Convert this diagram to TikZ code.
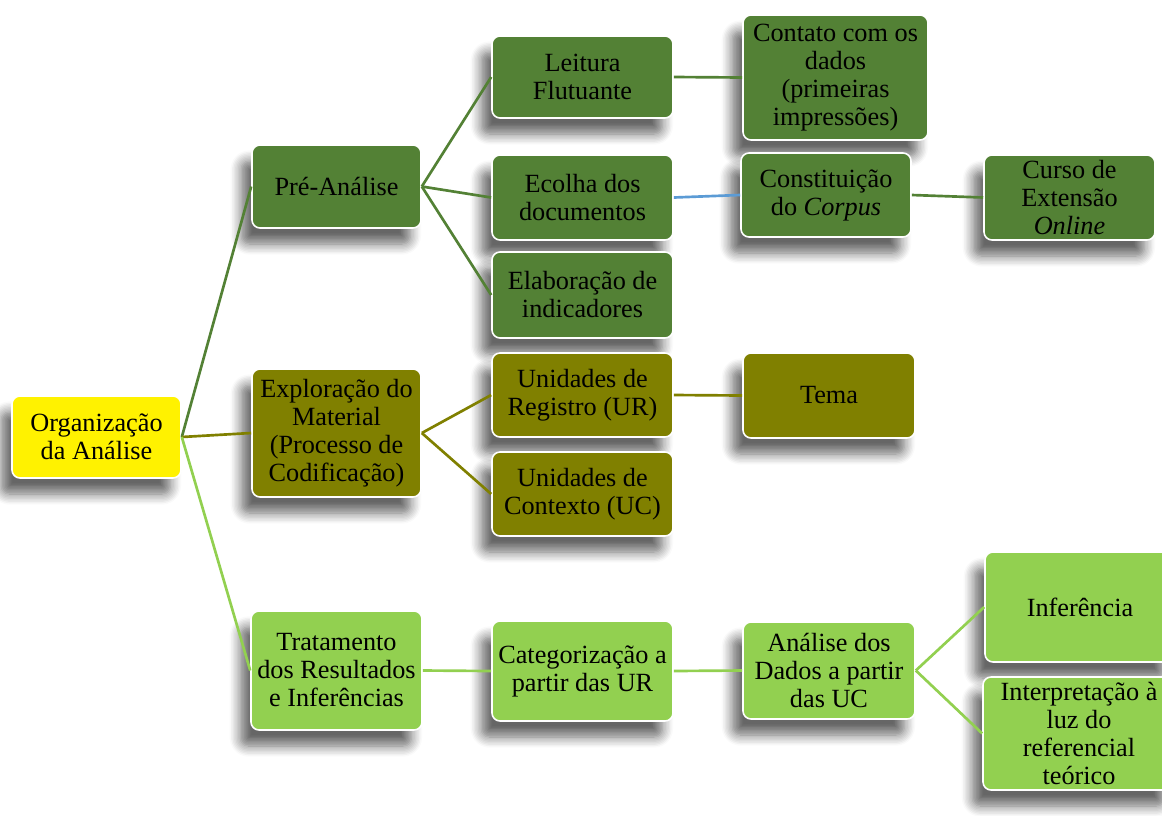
\documentclass[tikz,border=0pt]{standalone}
\usepackage{fontspec}
\setmainfont{Liberation Serif}
\usetikzlibrary{shadows.blur}
\definecolor{dkgreen}{HTML}{538135}
\definecolor{olivebox}{HTML}{808000}
\definecolor{ltgreen}{HTML}{92D050}
\definecolor{linkblue}{HTML}{5B9BD5}
\begin{document}
\begin{tikzpicture}[x=0.75pt,y=-0.75pt,
  card/.style={rounded corners=6pt, draw=white, line width=1.2pt, align=center,
    inner sep=0pt, text=black, font=\fontsize{19.7}{21}\selectfont,
    blur shadow={shadow xshift=-8pt, shadow yshift=-12pt, shadow blur radius=8pt,
      shadow opacity=60, shadow blur steps=8}},
  sz/.style 2 args={minimum width=#1*0.75pt, minimum height=#2*0.75pt},
  rootbox/.style={card, fill=yellow},
  darkbox/.style={card, fill=dkgreen},
  olivecard/.style={card, fill=olivebox},
  lightbox/.style={card, fill=ltgreen},
  link/.style={line width=2pt},
]
\useasboundingbox (0,0) rectangle (1162,815);

% root
\node[rootbox, sz={169}{82}] (org) at (96.5,437) {Organização\\da Análise};

% first level
\node[darkbox, sz={169}{83}] (pre) at (336.5,186.5) {Pré-Análise};
\node[olivecard, sz={169}{128}] (expl) at (336.5,433) {Exploração do\\Material\\(Processo de\\Codificação)};
\node[lightbox, sz={171}{119}] (trat) at (336.5,670.5) {Tratamento\\dos Resultados\\e Inferências};

% second level
\node[darkbox, sz={181}{82}] (leit) at (582.5,77) {Leitura\\Flutuante};
\node[darkbox, sz={181}{85}] (ecol) at (582.5,197.5) {Ecolha dos\\documentos};
\node[darkbox, sz={181}{86}] (elab) at (582.5,295) {Elaboração de\\indicadores};
\node[olivecard, sz={181}{84}] (ur) at (582.5,395) {Unidades de\\Registro (UR)};
\node[olivecard, sz={181}{84}] (uc) at (582.5,494) {Unidades de\\Contexto (UC)};
\node[lightbox, sz={181}{100}] (cat) at (582.5,671) {Categorização a\\partir das UR};

% third level
\node[darkbox, sz={185}{125}] (cont) at (835.5,77.5) {Contato com os\\dados\\(primeiras\\impressões)};
\node[darkbox, sz={170}{84}] (const) at (826,195) {Constituição\\do \textit{Corpus}};
\node[olivecard, sz={172}{85}] (tema) at (829,395.5) {Tema};
\node[lightbox, sz={172}{97}] (ana) at (829,670.5) {Análise dos\\Dados a partir\\das UC};

% fourth level
\node[darkbox, sz={171}{85}] (curso) at (1069.5,197.5) {Curso de\\Extensão\\\textit{Online}};
\node[lightbox, sz={190}{110}] (inf) at (1080,607) {Inferência};
\node[lightbox, sz={192}{113}] (interp) at (1079,733.5) {Interpretação à\\luz do\\referencial\\teórico};

% connectors
\draw[link, dkgreen] (org.east) -- (pre.west);
\draw[link, olivebox] (org.east) -- (expl.west);
\draw[link, ltgreen] (org.east) -- (trat.west);

\draw[link, dkgreen] (pre.east) -- (leit.west);
\draw[link, dkgreen] (pre.east) -- (ecol.west);
\draw[link, dkgreen] (pre.east) -- (elab.west);
\draw[link, dkgreen] (leit.east) -- (cont.west);
\draw[link, linkblue] (ecol.east) -- (const.west);
\draw[link, dkgreen] (const.east) -- (curso.west);

\draw[link, olivebox] (expl.east) -- (ur.west);
\draw[link, olivebox] (expl.east) -- (uc.west);
\draw[link, olivebox] (ur.east) -- (tema.west);

\draw[link, ltgreen] (trat.east) -- (cat.west);
\draw[link, ltgreen] (cat.east) -- (ana.west);
\draw[link, ltgreen] (ana.east) -- (inf.west);
\draw[link, ltgreen] (ana.east) -- (interp.west);
\end{tikzpicture}
\end{document}
